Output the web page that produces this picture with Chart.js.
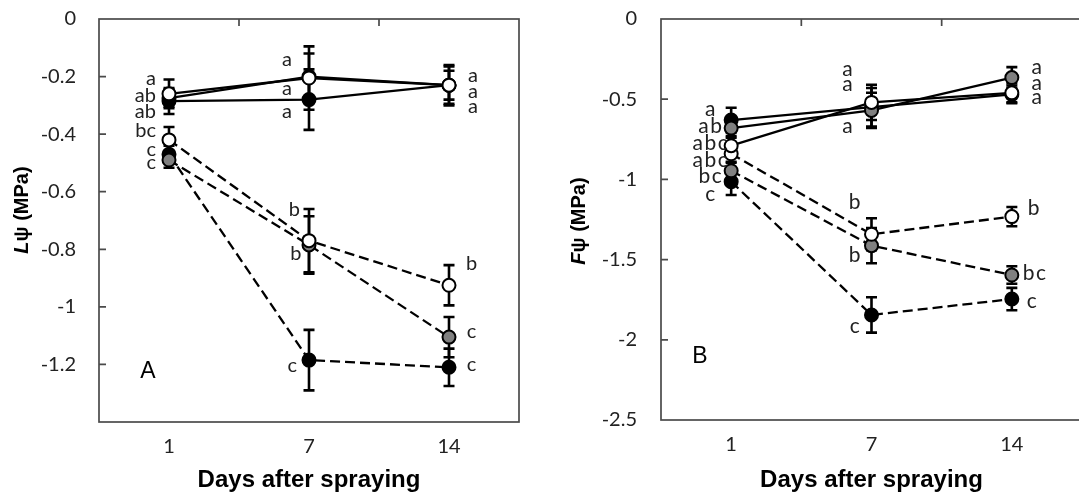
<!DOCTYPE html>
<html>
<head>
<meta charset="utf-8">
<script src="https://cdn.jsdelivr.net/npm/chart.js@4.4.1/dist/chart.umd.min.js"></script>
<style>
  html, body { margin: 0; padding: 0; background: #fff; }
  body { width: 1079px; height: 495px; overflow: hidden; position: relative; }
  canvas { position: absolute; top: 0; }
  #leafChart { left: 0; }
  #fruitChart { left: 540px; }
</style>
</head>
<body>
<canvas id="leafChart" width="540" height="495"></canvas>
<canvas id="fruitChart" width="562" height="495"></canvas>
<script>
// ---------- data ----------
const days = ['1', '7', '14'];

// Panel A: leaf water potential (MPa)
const leafTickValues = [0, -0.2, -0.4, -0.6, -0.8, -1, -1.2];
const leafTickLabels = ['0', '-0.2', '-0.4', '-0.6', '-0.8', '-1', '-1.2'];

const leafOpenSolid      = [-0.26, -0.205, -0.23];
const leafOpenSolidErr   = [0.05, 0.11, 0.07];
const leafOpenSolidSig   = ['a', 'a', 'a'];

const leafFilledSolid    = [-0.285, -0.28, -0.23];
const leafFilledSolidErr = [0.045, 0.105, 0.065];
const leafFilledSolidSig = ['ab', 'a', 'a'];

const leafGreySolid      = [-0.275, -0.20, -0.23];
const leafGreySolidErr   = [0.03, 0.08, 0.05];
const leafGreySolidSig   = ['ab', 'a', 'a'];

const leafOpenDashed      = [-0.42, -0.77, -0.925];
const leafOpenDashedErr   = [0.045, 0.11, 0.07];
const leafOpenDashedSig   = ['bc', 'b', 'b'];

const leafGreyDashed      = [-0.49, -0.785, -1.105];
const leafGreyDashedErr   = [0.027, 0.10, 0.07];
const leafGreyDashedSig   = ['c', 'b', 'c'];

const leafFilledDashed    = [-0.47, -1.185, -1.21];
const leafFilledDashedErr = [0.03, 0.105, 0.065];
const leafFilledDashedSig = ['c', 'c', 'c'];

// Panel B: fruit water potential (MPa)
const fruitTickValues = [0, -0.5, -1, -1.5, -2, -2.5];
const fruitTickLabels = ['0', '-0.5', '-1', '-1.5', '-2', '-2.5'];

const fruitOpenSolid      = [-0.79, -0.52, -0.46];
const fruitOpenSolidErr   = [0.05, 0.11, 0.06];
const fruitOpenSolidSig   = ['abc', 'a', 'a'];

const fruitGreySolid      = [-0.68, -0.57, -0.365];
const fruitGreySolidErr   = [0.05, 0.11, 0.065];
const fruitGreySolidSig   = ['ab', 'a', 'a'];

const fruitFilledSolid    = [-0.63, -0.55, -0.47];
const fruitFilledSolidErr = [0.077, 0.12, 0.055];
const fruitFilledSolidSig = ['a', 'a', 'a'];

const fruitOpenDashed      = [-0.84, -1.342, -1.232];
const fruitOpenDashedErr   = [0.05, 0.10, 0.06];
const fruitOpenDashedSig   = ['abc', 'b', 'b'];

const fruitGreyDashed      = [-0.946, -1.413, -1.596];
const fruitGreyDashedErr   = [0.05, 0.11, 0.055];
const fruitGreyDashedSig   = ['bc', 'b', 'bc'];

const fruitFilledDashed    = [-1.014, -1.845, -1.746];
const fruitFilledDashedErr = [0.083, 0.11, 0.07];
const fruitFilledDashedSig = ['c', 'c', 'c'];

// ---------- letter placement (pixel nudges from each marker) ----------
const leafLetterAlign = ['right', 'right', 'left'];
const leafNudge = {
  openSolid:    [[-13, -14],  [-17, -17],   [19, -8.5]],
  filledSolid:  [[-13, 11.7], [-17, 13],    [19, 23]],
  greySolid:    [[-13, -1.5], [-17, 13.4],  [19, 8]],
  openDashed:   [[-13, -8.2], [-9, -29.7],  [17, -20]],
  greyDashed:   [[-13, 4.3],  [-7.5, 10],   [17.7, -4.4]],
  filledDashed: [[-13, -3.6], [-12, 6.6],   [17.7, -1.3]]
};
const fruitLetterAlign = ['center', 'right', 'left'];
const fruitNudge = {
  openSolid:    [[-21, -1],  [-18.7, -31.4], [19.7, -8]],
  greySolid:    [[-21, 0],   [-18.7, 17.3],  [19.7, -9]],
  filledSolid:  [[-21, -9],  [-18.7, -21.2], [19.7, 5]],
  openDashed:   [[-21, 8],   [-11, -30],     [16, -7]],
  greyDashed:   [[-21, 7],   [-11, 11],      [11, 0]],
  filledDashed: [[-21, 14],  [-11.7, 13],    [15, 4]]
};

// ---------- styling helpers ----------
const WHITE = '#ffffff', GREY = '#808080', BLACK = '#000000';
const TEXT = '#222222';

function series(values, errors, letters, nudge, fill, dashed) {
  return {
    data: values,
    err: errors,
    letters: letters,
    nudge: nudge,
    borderColor: BLACK,
    borderWidth: 2.3,
    borderDash: dashed ? [10, 5] : [],
    pointRadius: 6.5,
    pointHoverRadius: 6.5,
    pointBackgroundColor: fill,
    pointBorderColor: BLACK,
    pointBorderWidth: 2,
    tension: 0,
    fill: false,
    clip: false
  };
}

// vertical error bars with caps, drawn underneath the lines and markers
const errorBarPlugin = {
  id: 'errorBars',
  beforeDatasetsDraw(chart) {
    const ctx = chart.ctx, y = chart.scales.y;
    ctx.save();
    ctx.strokeStyle = BLACK;
    ctx.lineWidth = 2.6;
    ctx.setLineDash([]);
    chart.data.datasets.forEach((ds, i) => {
      const meta = chart.getDatasetMeta(i);
      ds.data.forEach((v, j) => {
        const px = meta.data[j].x;
        const top = y.getPixelForValue(v + ds.err[j]);
        const bot = y.getPixelForValue(v - ds.err[j]);
        ctx.beginPath();
        ctx.moveTo(px, top); ctx.lineTo(px, bot);
        ctx.moveTo(px - 5.5, top); ctx.lineTo(px + 5.5, top);
        ctx.moveTo(px - 5.5, bot); ctx.lineTo(px + 5.5, bot);
        ctx.stroke();
      });
    });
    ctx.restore();
  }
};

// significance letters beside each marker
function drawSpaced(ctx, text, x, y, align, spacing) {
  const widths = [...text].map(c => ctx.measureText(c).width);
  const total = widths.reduce((a, b) => a + b, 0) + spacing * (text.length - 1);
  let cx = align === 'right' ? x - total : align === 'center' ? x - total / 2 : x;
  [...text].forEach((c, k) => { ctx.fillText(c, cx, y); cx += widths[k] + spacing; });
}
const letterPlugin = {
  id: 'sigLetters',
  afterDatasetsDraw(chart, args, opts) {
    const ctx = chart.ctx;
    ctx.save();
    ctx.font = opts.size + 'px Lato';
    ctx.fillStyle = TEXT;
    ctx.textAlign = 'left';
    ctx.textBaseline = 'alphabetic';
    chart.data.datasets.forEach((ds, i) => {
      const meta = chart.getDatasetMeta(i);
      ds.letters.forEach((txt, j) => {
        const p = meta.data[j];
        const [dx, dy] = ds.nudge[j];
        drawSpaced(ctx, txt, p.x + dx, p.y + dy + 5, opts.align[j], opts.spacing);
      });
    });
    ctx.restore();
  }
};

// plot frame, inward tick marks, panel letter and y-axis title
const framePlugin = {
  id: 'frame',
  afterDraw(chart, args, opts) {
    const ctx = chart.ctx, a = chart.chartArea;
    const xs = chart.scales.x, ys = chart.scales.y;
    ctx.save();
    ctx.strokeStyle = '#4a4a4a';
    ctx.lineWidth = 1.7;
    ctx.strokeRect(a.left, a.top, a.right - a.left, a.bottom - a.top);
    ctx.beginPath();
    opts.ticks.forEach(v => {
      if (v === ys.max || v === ys.min) return;
      const py = ys.getPixelForValue(v);
      ctx.moveTo(a.left, py); ctx.lineTo(a.left + 7, py);
    });
    for (let k = 0; k < days.length - 1; k++) {
      const px = (xs.getPixelForValue(k) + xs.getPixelForValue(k + 1)) / 2;
      ctx.moveTo(px, a.top); ctx.lineTo(px, a.top + 7);
    }
    ctx.stroke();

    // panel letter
    ctx.fillStyle = '#000';
    ctx.font = '23px "Liberation Sans"';
    ctx.textAlign = 'center';
    ctx.textBaseline = 'alphabetic';
    ctx.fillText(opts.panel, a.left + opts.panelPos[0], a.top + opts.panelPos[1] + 8);

    // y-axis title: italic symbol followed by bold upright text
    const fI = 'italic bold 20px "Liberation Sans"';
    const fB = 'bold 20px "Liberation Sans"';
    ctx.translate(opts.titlePos[0], opts.titlePos[1]);
    ctx.rotate(-Math.PI / 2);
    ctx.textAlign = 'left';
    ctx.textBaseline = 'middle';
    ctx.font = fI; const w1 = ctx.measureText(opts.symbol).width;
    ctx.font = fB; const w2 = ctx.measureText(opts.unit).width;
    const x0 = -(w1 + w2) / 2;
    ctx.font = fI; ctx.fillText(opts.symbol, x0, 0);
    ctx.font = fB; ctx.fillText(opts.unit, x0 + w1, 0);
    ctx.restore();
  }
};

function makeChart(id, datasets, cfg) {
  return new Chart(document.getElementById(id), {
    type: 'line',
    data: { labels: days, datasets: datasets },
    plugins: [errorBarPlugin, letterPlugin, framePlugin],
    options: {
      responsive: false,
      animation: false,
      events: [],
      layout: { padding: { top: cfg.padTop, right: cfg.padRight, left: 0, bottom: 0 } },
      scales: {
        x: {
          type: 'category',
          offset: true,
          grid: { display: false, drawTicks: false },
          border: { display: false },
          ticks: { color: TEXT, font: { family: 'Lato', size: 20 }, padding: 13, maxRotation: 0 },
          title: {
            display: true,
            text: 'Days after spraying',
            color: '#000',
            font: { family: '"Liberation Sans"', size: 24, weight: 'bold' },
            padding: { top: 0, bottom: 0 }
          },
          afterFit(s) { s.height = cfg.xHeight; s.paddingLeft = 0; s.paddingRight = 0; }
        },
        y: {
          min: cfg.yMin,
          max: 0,
          grid: { display: false, drawTicks: false },
          border: { display: false },
          afterBuildTicks(s) { s.ticks = cfg.tickValues.map(v => ({ value: v })); },
          ticks: {
            color: TEXT,
            font: { family: 'Lato', size: 20 },
            padding: cfg.yPad,
            autoSkip: false,
            callback: (v, i) => cfg.tickLabels[i]
          },
          afterFit(s) { s.width = cfg.yWidth; s.paddingTop = 0; s.paddingBottom = 0; }
        }
      },
      plugins: {
        legend: { display: false },
        tooltip: { enabled: false },
        sigLetters: { align: cfg.letterAlign, spacing: cfg.letterSpacing, size: cfg.letterSize },
        frame: {
          ticks: cfg.tickValues,
          panel: cfg.panel,
          panelPos: cfg.panelPos,
          symbol: cfg.symbol,
          unit: '\u03C8 (MPa)',
          titlePos: cfg.titlePos
        }
      }
    }
  });
}

makeChart('leafChart', [
  series(leafOpenSolid, leafOpenSolidErr, leafOpenSolidSig, leafNudge.openSolid, WHITE, false),
  series(leafFilledSolid, leafFilledSolidErr, leafFilledSolidSig, leafNudge.filledSolid, BLACK, false),
  series(leafGreySolid, leafGreySolidErr, leafGreySolidSig, leafNudge.greySolid, GREY, false),
  series(leafOpenDashed, leafOpenDashedErr, leafOpenDashedSig, leafNudge.openDashed, WHITE, true),
  series(leafGreyDashed, leafGreyDashedErr, leafGreyDashedSig, leafNudge.greyDashed, GREY, true),
  series(leafFilledDashed, leafFilledDashedErr, leafFilledDashedSig, leafNudge.filledDashed, BLACK, true)
], {
  padTop: 19, padRight: 21, xHeight: 73, yWidth: 99, yPad: 23, yMin: -1.4,
  tickValues: leafTickValues, tickLabels: leafTickLabels,
  letterAlign: leafLetterAlign, letterSpacing: 0, letterSize: 20,
  panel: 'A', panelPos: [49, 351], symbol: 'L', titlePos: [22.5, 210]
});

makeChart('fruitChart', [
  series(fruitOpenSolid, fruitOpenSolidErr, fruitOpenSolidSig, fruitNudge.openSolid, WHITE, false),
  series(fruitGreySolid, fruitGreySolidErr, fruitGreySolidSig, fruitNudge.greySolid, GREY, false),
  series(fruitFilledSolid, fruitFilledSolidErr, fruitFilledSolidSig, fruitNudge.filledSolid, BLACK, false),
  series(fruitOpenDashed, fruitOpenDashedErr, fruitOpenDashedSig, fruitNudge.openDashed, WHITE, true),
  series(fruitGreyDashed, fruitGreyDashedErr, fruitGreyDashedSig, fruitNudge.greyDashed, GREY, true),
  series(fruitFilledDashed, fruitFilledDashedErr, fruitFilledDashedSig, fruitNudge.filledDashed, BLACK, true)
], {
  padTop: 19, padRight: 20, xHeight: 75, yWidth: 121, yPad: 24, yMin: -2.5,
  tickValues: fruitTickValues, tickLabels: fruitTickLabels,
  letterAlign: fruitLetterAlign, letterSpacing: 1.5, letterSize: 21,
  panel: 'B', panelPos: [39, 336], symbol: 'F', titlePos: [39, 221]
});
</script>
</body>
</html>
